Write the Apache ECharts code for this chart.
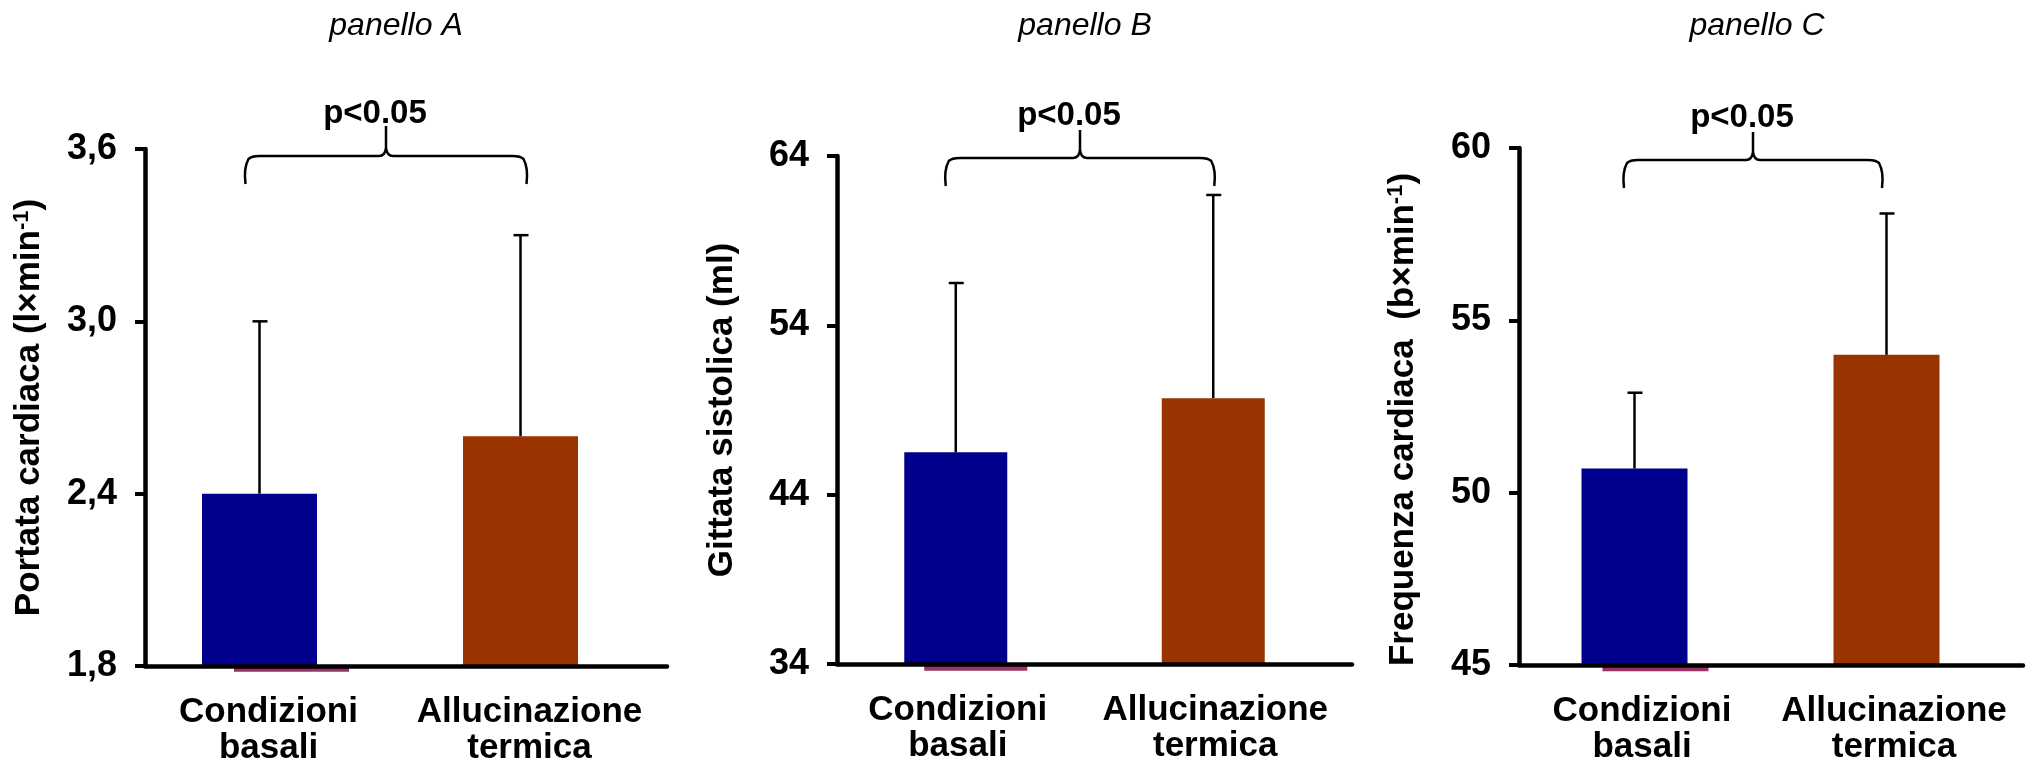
<!DOCTYPE html>
<html>
<head>
<meta charset="utf-8">
<script src="https://cdn.jsdelivr.net/npm/echarts@6/dist/echarts.min.js"></script>
<style>
  html, body { margin: 0; padding: 0; background: #fff; }
  #chart { width: 2032px; height: 768px; }
</style>
</head>
<body>
<div id="chart"></div>
<script>
// categorie e dati
const categories = ['Condizioni\nbasali', 'Allucinazione\ntermica'];

const meanA = [2.4, 2.6];      // portata cardiaca
const sdA = [0.6, 0.7];
const ticksA = [1.8, 2.4, 3.0, 3.6];
const baseA = [1.78, null];    // serie sotto l'asse (linea rosa)

const meanB = [46.5, 49.7];    // gittata sistolica
const sdB = [10.0, 12.0];
const ticksB = [34, 44, 54, 64];
const baseB = [33.6, null];

const meanC = [50.7, 54.0];    // frequenza cardiaca
const sdC = [2.2, 4.1];
const ticksC = [45, 50, 55, 60];
const baseC = [44.82, null];

const titles = ['panello A', 'panello B', 'panello C'];
const yNames = [
    'Portata cardiaca (l×min{sup|-1})',
    'Gittata sistolica (ml)',
    'Frequenza cardiaca  (b×min{sup|-1})'
];
const pLabel = 'p<0.05';

const FONT = "'Liberation Sans', Arial, sans-serif";
const barColors = ['#00008c', '#993300'];

// layout dei tre pannelli (px)
const panels = [
    { left: 145, top: 149, width: 522, height: 517, barW: 115, sep: 32, title: 391, labShift: 14, nameShift: 0,
      br: { l: -30, r: -10, h: 156, e: 184, s: 126, t: 130 } },
    { left: 837, top: 156, width: 515, height: 508, barW: 103, sep: 20, title: 1080, labShift: 16, nameShift: 0,
      br: { l: -20, r: -9, h: 158, e: 186, s: 130, t: 132 } },
    { left: 1519, top: 148, width: 504, height: 517, barW: 106, sep: 21, title: 1752, labShift: 6, nameShift: 26,
      br: { l: -21, r: -15, h: 160, e: 188, s: 132, t: 134 } }
];
const means = [meanA, meanB, meanC];
const sds = [sdA, sdB, sdC];
const ticks = [ticksA, ticksB, ticksC];
const bases = [baseA, baseB, baseC];

const myChart = echarts.init(document.getElementById('chart'), null, { renderer: 'canvas' });

let option = {
    backgroundColor: '#fff',
    animation: false,
    title: [],
    grid: [],
    xAxis: [],
    yAxis: [],
    series: []
};

panels.forEach((p, i) => {
    const tk = ticks[i];
    const yMin = tk[0];
    option.title.push({
        text: titles[i],
        left: p.title,
        top: 5,
        textAlign: 'center',
        textStyle: { fontFamily: FONT, fontSize: 32, fontStyle: 'italic', fontWeight: 'normal', color: '#000' }
    });
    option.grid.push({
        left: p.left, top: p.top, width: p.width, height: p.height,
        outerBoundsMode: 'none'
    });
    option.xAxis.push({
        type: 'category',
        gridIndex: i,
        data: categories,
        z: 5,
        axisLine: { show: true, lineStyle: { color: '#000', width: 4.5 } },
        axisTick: { show: false },
        axisLabel: {
            color: '#000', fontFamily: FONT, fontSize: 35, fontWeight: 'bold',
            lineHeight: 36, margin: 28, interval: 0,
            padding: [0, p.labShift, 0, 0]
        },
        splitLine: { show: false }
    });
    option.yAxis.push({
        type: 'value',
        gridIndex: i,
        min: yMin,
        max: tk[tk.length - 1],
        interval: tk[1] - tk[0],
        z: 5,
        name: yNames[i],
        nameLocation: 'middle',
        nameGap: 97,
        nameTextStyle: {
            color: '#000', fontFamily: FONT, fontSize: 35, fontWeight: 'bold',
            padding: [0, p.nameShift, 0, 0],
            rich: {
                sup: { fontFamily: FONT, fontSize: 22, fontWeight: 'bold', color: '#000', padding: [0, 0, 15, 0] }
            }
        },
        axisLine: { show: true, lineStyle: { color: '#000', width: 4.5 } },
        axisTick: { show: true, length: 10, lineStyle: { color: '#000', width: 4 } },
        axisLabel: {
            color: '#000', fontFamily: FONT, fontSize: 36, fontWeight: 'bold',
            margin: 28, padding: [10, 0, 0, 0],
            formatter: (v) => i === 0 ? v.toFixed(1).replace('.', ',') : String(Math.round(v))
        },
        splitLine: { show: false }
    });

    const gap = ((p.sep / p.barW - 1) * 100).toFixed(1) + '%';
    // barre principali
    option.series.push({
        type: 'bar',
        xAxisIndex: i, yAxisIndex: i,
        barWidth: p.barW,
        barGap: gap,
        z: 2,
        data: means[i].map((v, k) => ({ value: v, itemStyle: { color: barColors[k] } }))
    });
    // secondo slot del gruppo (vuoto), sposta le barre come nell'originale
    option.series.push({
        type: 'bar',
        xAxisIndex: i, yAxisIndex: i,
        barWidth: p.barW,
        barGap: gap,
        silent: true,
        data: categories.map(() => null)
    });
    // linea rosa appena sotto l'asse
    option.series.push({
        type: 'custom',
        xAxisIndex: i, yAxisIndex: i,
        clip: false,
        z: 1,
        data: bases[i].map((v, k) => [k, v]).filter(d => d[1] !== null),
        renderItem: (params, api) => {
            const b = api.coord([api.value(0), yMin]);
            const v = api.coord([api.value(0), api.value(1)]);
            return {
                type: 'rect',
                shape: { x: b[0] + p.sep / 2 - p.barW / 2, y: b[1], width: p.barW, height: v[1] - b[1] },
                style: { fill: '#993366' }
            };
        }
    });
    // barre di errore
    option.series.push({
        type: 'custom',
        xAxisIndex: i, yAxisIndex: i,
        clip: false,
        z: 3,
        data: means[i].map((v, k) => [k, v, sds[i][k]]),
        renderItem: (params, api) => {
            const b = api.coord([api.value(0), api.value(1)]);
            const t = api.coord([api.value(0), api.value(1) + api.value(2)]);
            const cx = b[0] - p.sep / 2;
            const st = { stroke: '#000', lineWidth: 2.5 };
            return {
                type: 'group',
                children: [
                    { type: 'line', shape: { x1: cx, y1: b[1], x2: cx, y2: t[1] }, style: st },
                    { type: 'line', shape: { x1: cx - 7, y1: t[1], x2: cx + 8, y2: t[1] }, style: st }
                ]
            };
        }
    });
    // parentesi graffa e p<0.05
    option.series.push({
        type: 'custom',
        xAxisIndex: i, yAxisIndex: i,
        clip: false,
        z: 3,
        data: [[0, tk[tk.length - 1]]],
        renderItem: (params, api) => {
            const c0 = api.coord([0, api.value(1)]);
            const c1 = api.coord([1, api.value(1)]);
            const L = c0[0] + p.br.l, R = c1[0] + p.br.r, M = (L + R) / 2;
            const h = p.br.h, e = p.br.e, s = p.br.s;
            const path = `M${L} ${e} Q${L - 2} ${h + 12} ${L + 3} ${h + 3} Q${L + 6} ${h} ${L + 14} ${h} ` +
                `L${M - 7} ${h} Q${M - 1} ${h} ${M} ${h - 8} L${M} ${s} ` +
                `M${M} ${h - 8} Q${M + 1} ${h} ${M + 7} ${h} L${R - 14} ${h} ` +
                `Q${R - 6} ${h} ${R - 3} ${h + 3} Q${R + 2} ${h + 12} ${R} ${e}`;
            return {
                type: 'group',
                children: [
                    { type: 'path', shape: { pathData: path },
                      style: { stroke: '#000', lineWidth: 2.5, fill: null } },
                    { type: 'text',
                      style: { text: pLabel, x: M - 11, y: p.br.t, align: 'center', verticalAlign: 'bottom',
                               font: `bold 33px ${FONT}`, fill: '#000' } }
                ]
            };
        }
    });
});

myChart.setOption(option);
window.addEventListener('resize', () => {
    myChart.resize();
});
</script>
</body>
</html>
